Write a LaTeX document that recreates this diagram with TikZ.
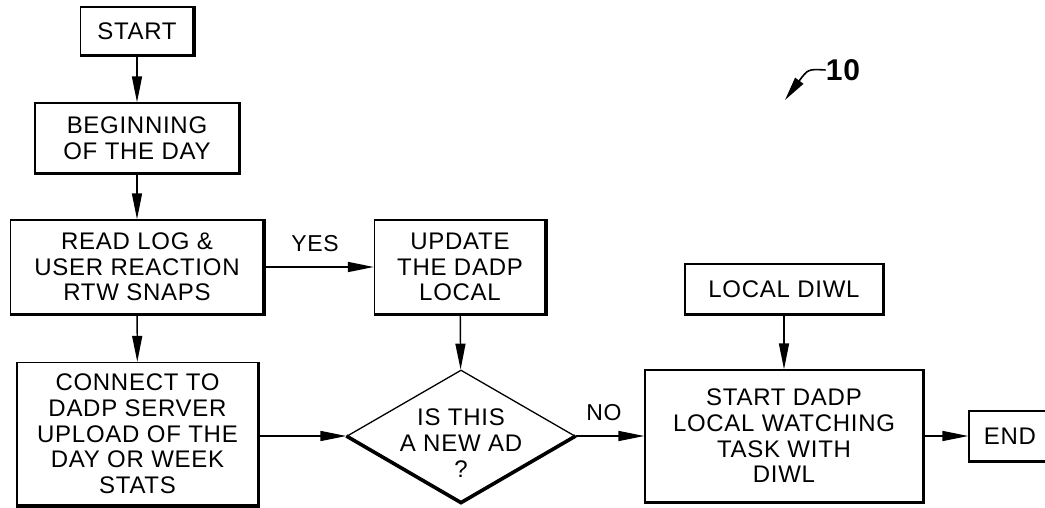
\documentclass[tikz,border=0pt]{standalone}
\usepackage{fontspec}
\setmainfont[LetterSpace=3]{Liberation Sans}
\usetikzlibrary{arrows.meta,shapes.geometric}
\begin{document}
\begin{tikzpicture}[x=1pt,y=-1pt,
  txt/.style={font=\fontsize{24}{25.7}\selectfont, align=center, inner sep=0pt},
  box/.style={txt, draw, line width=1.3pt},
  heavy/.style={line width=3.6pt, line cap=butt, line join=miter},
  conn/.style={line width=1.4pt, -{Triangle[length=26pt,width=10pt]}},
  lbl/.style={font=\fontsize{23}{24}\selectfont, inner sep=0pt}
]
\useasboundingbox (0,0) rectangle (1045,508);
\clip (0,0) rectangle (1045,508);

\node[box, minimum width=113pt, minimum height=48pt] (start) at (137,31) {START};
\node[box, minimum width=204pt, minimum height=70pt] (begin) at (137,138) {BEGINNING\\OF THE DAY};
\node[box, minimum width=253pt, minimum height=94pt] (read) at (137,267) {READ LOG \&\\USER REACTION\\RTW SNAPS};
\node[box, minimum width=241pt, minimum height=143pt] (connect) at (137.5,434) {CONNECT TO\\DADP SERVER\\UPLOAD OF THE\\DAY OR WEEK\\STATS};
\node[box, minimum width=171pt, minimum height=94pt] (update) at (460,267) {UPDATE\\THE DADP\\LOCAL};
\node[diamond, draw, line width=1.3pt, minimum width=228pt, minimum height=132pt, inner sep=0pt] (dec) at (461,436) {};
\node[txt] (dectext) at (461,443) {IS THIS\\A NEW AD\\?};
\node[box, minimum width=198pt, minimum height=50pt] (local) at (784,289) {LOCAL DIWL};
\node[box, minimum width=278pt, minimum height=132pt] (watch) at (784,436) {START DADP\\LOCAL WATCHING\\TASK WITH\\DIWL};
\node[box, minimum width=82pt, minimum height=50pt] (end) at (1010,436) {END};

\foreach \n in {start,begin,read,connect,update,local,watch,end}
  \draw[heavy] (\n.north east) -- (\n.south east) -- (\n.south west);
\draw[heavy] (dec.west) -- (dec.south) -- (dec.east);

\draw[conn] (start) -- (begin);
\draw[conn] (begin) -- (read);
\draw[conn] (read) -- (connect);
\draw[conn] (read) -- node[lbl, above=15pt, xshift=-4pt] (yes) {YES} (update);
\draw[conn] (update) -- (dec);
\draw[conn] (connect.east |- dec.west) -- (dec.west);
\draw[conn] (dec.east) -- node[lbl, above=15pt, xshift=-6pt] (no) {NO} (watch.west |- dec.east);
\draw[conn] (local) -- (watch);
\draw[conn] (watch) -- (end);

\node[font=\fontsize{30}{32}\selectfont\bfseries, inner sep=0pt] (ten) at (843,70) {10};
\coordinate (tentip) at (785,100);
\draw[line width=1.6pt, -{Triangle[length=24pt,width=10pt]}] (ten.west) .. controls (808,69) .. (tentip);
\end{tikzpicture}
\end{document}
